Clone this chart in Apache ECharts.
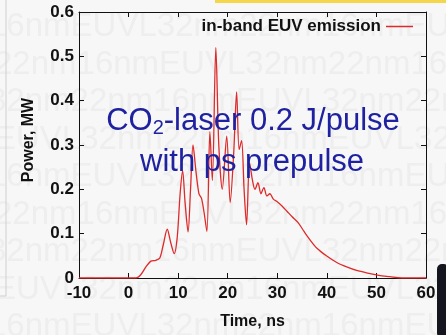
<!DOCTYPE html>
<html>
<head>
<meta charset="utf-8">
<script src="https://cdn.jsdelivr.net/npm/echarts@6/dist/echarts.min.js"></script>
<style>
  html, body { margin: 0; padding: 0; background: #f7f7f7; }
  #main { width: 446px; height: 335px; }
</style>
</head>
<body>
<div id="main"></div>
<script>
// time axis (ns) and in-band EUV power (MW)
var timeNs = [-10, 0, 1.5, 2.5, 3.5, 4.5, 5.5, 6.3, 7.0, 7.8, 8.5, 9.2, 9.8, 10.4, 10.9, 11.4,
  12.0, 12.5, 13.0, 13.6, 14.2, 14.7, 15.2, 15.8, 16.4, 16.9, 17.6, 18.2, 18.9, 19.8, 20.5,
  21.2, 21.8, 22.3, 22.8, 23.3, 23.8, 24.4, 25.0, 25.5, 26.1, 26.7, 27.3, 27.9, 28.5, 29.2,
  30.0, 31, 32, 33, 34.2, 35.4, 36.6, 38, 39.9, 42, 44, 46, 48.7, 50.5, 52.7, 55, 60];
var powerMW = [0, 0, 0, 0.008, 0.025, 0.038, 0.040, 0.045, 0.075, 0.11, 0.08, 0.055, 0.09, 0.19, 0.242, 0.17,
  0.104, 0.20, 0.30, 0.24, 0.19, 0.18, 0.15, 0.105, 0.33, 0.22, 0.52, 0.30, 0.20, 0.32, 0.17,
  0.28, 0.42, 0.29, 0.31, 0.20, 0.12, 0.26, 0.22, 0.20, 0.215, 0.19, 0.204, 0.185, 0.19, 0.178,
  0.172, 0.162, 0.15, 0.138, 0.125, 0.105, 0.086, 0.067, 0.05, 0.035, 0.025, 0.017, 0.01, 0.006, 0.003, 0, 0];

var xMin = -10, xMax = 60, xStep = 10;
var yMin = 0, yMax = 0.6, yStep = 0.1;
var seriesName = 'in-band EUV emission';

var points = timeNs.map(function (t, i) { return [t, powerMW[i]]; });

var font = '"Liberation Sans", Arial, sans-serif';

// faint watermark text in the background
var wmRows = ['16nmEUVL32nm22nm16nmEUVL32nm', '22nm16nmEUVL32nm22nm16nmEUVL',
  '32nm22nm16nmEUVL32nm22nm16nm', 'EUVL32nm22nm16nmEUVL32nm22nm'];
var graphics = [];
for (var r = 0; r < 9; r++) {
  graphics.push({
    type: 'text', z: -10, silent: true,
    x: -12 + (r % 2) * 6, y: 27 + r * 37.5,
    style: { text: wmRows[r % 4], font: '33px ' + font, fill: '#eeeeee', textVerticalAlign: 'middle' }
  });
}
graphics.push(
  { type: 'rect', z: -5, shape: { x: 215, y: 0, width: 231, height: 3 }, style: { fill: '#f3d64a' } },
  { type: 'polyline', z: -5, shape: { points: [[6, 0], [6, 296], [0, 296]] }, style: { stroke: '#cfcfcf', lineWidth: 1, fill: null } },
  { type: 'rect', z: -5, shape: { x: 437, y: 264, width: 12, height: 74, r: 5 }, style: { fill: '#15151f' } },
  {
    type: 'text', x: 29, y: 140, rotation: Math.PI / 2,
    style: { text: 'Power, MW', font: 'bold 16px ' + font, fill: '#111', textAlign: 'center', textVerticalAlign: 'middle' }
  },
  {
    type: 'text', z: 100, x: 253, y: 121,
    style: {
      text: '{a|CO}{s|2}{a|-laser 0.2 J/pulse}',
      textAlign: 'center', textVerticalAlign: 'middle',
      rich: {
        a: { font: '31px ' + font, fill: '#1f22a0' },
        s: { font: '20px ' + font, fill: '#1f22a0', padding: [15, 0, 0, 0] }
      }
    }
  },
  {
    type: 'text', z: 100, x: 252, y: 162,
    style: { text: 'with ps prepulse', font: '31px ' + font, fill: '#1f22a0', textAlign: 'center', textVerticalAlign: 'middle' }
  }
);

var chart = echarts.init(document.getElementById('main'));

var tickLabel = { color: '#111', fontFamily: font, fontWeight: 'bold', fontSize: 17 };

chart.setOption({
  backgroundColor: '#f7f7f7',
  animation: false,
  grid: { left: 79, right: 20, top: 12, bottom: 45, containLabel: false },
  legend: {
    data: [{ name: seriesName, icon: 'rect' }], right: 28, top: 13, align: 'right',
    itemWidth: 27, itemHeight: 1.5, itemGap: 6,
    textStyle: { fontFamily: font, fontWeight: 'bold', fontSize: 17, color: '#111' }
  },
  xAxis: [{
    type: 'value', min: xMin, max: xMax, interval: xStep, position: 'bottom',
    name: 'Time, ns', nameLocation: 'middle', nameGap: 36,
    nameTextStyle: { fontFamily: font, fontWeight: 'bold', fontSize: 16, color: '#111' },
    axisLine: { onZero: false, lineStyle: { color: '#111', width: 1 } },
    axisTick: { inside: true, length: 5, lineStyle: { color: '#111' } },
    axisLabel: Object.assign({ margin: 7 }, tickLabel),
    splitLine: { show: false }
  }, {
    type: 'value', min: xMin, max: xMax, interval: xStep, position: 'top',
    axisLine: { onZero: false, lineStyle: { color: '#111', width: 1 } },
    axisTick: { inside: true, length: 5, lineStyle: { color: '#111' } },
    axisLabel: { show: false }, splitLine: { show: false }
  }],
  yAxis: [{
    type: 'value', min: yMin, max: yMax, interval: yStep, position: 'left',
    axisLine: { show: true, onZero: false, lineStyle: { color: '#111', width: 1 } },
    axisTick: { show: true, inside: true, length: 5, lineStyle: { color: '#111' } },
    axisLabel: Object.assign({ margin: 5 }, tickLabel),
    splitLine: { show: false }
  }, {
    type: 'value', min: yMin, max: yMax, interval: yStep, position: 'right',
    axisLine: { show: true, onZero: false, lineStyle: { color: '#111', width: 1 } },
    axisTick: { show: true, inside: true, length: 5, lineStyle: { color: '#111' } },
    axisLabel: { show: false }, splitLine: { show: false }
  }],
  series: [{
    name: seriesName, type: 'line', data: points,
    xAxisIndex: 0, yAxisIndex: 0,
    symbol: 'none', smooth: 0.3,
    lineStyle: { color: '#dd2a2a', width: 1.3 },
    itemStyle: { color: '#dd2a2a' }
  }],
  graphic: graphics
});
</script>
</body>
</html>
